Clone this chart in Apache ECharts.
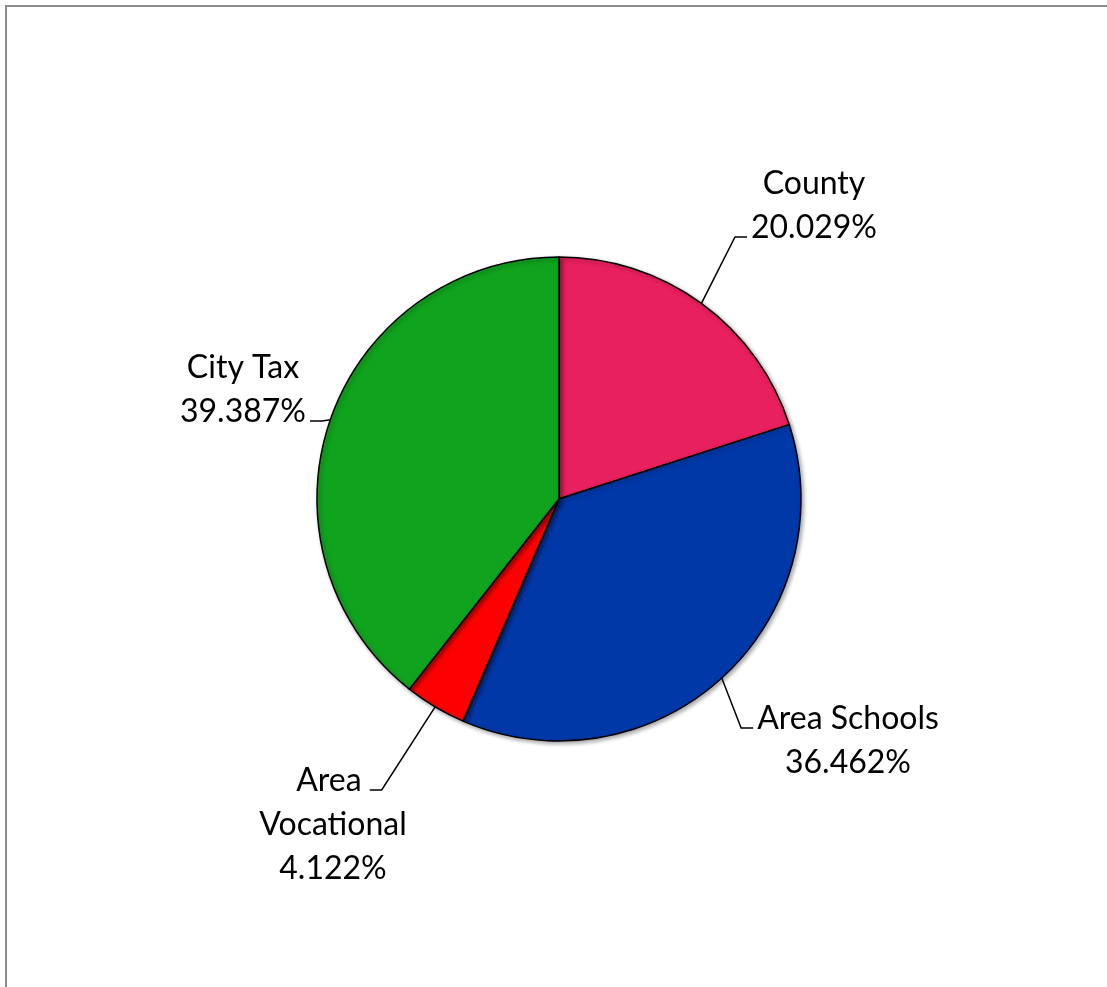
<!DOCTYPE html>
<html>
<head>
<meta charset="utf-8">
<script src="https://cdn.jsdelivr.net/npm/echarts@6/dist/echarts.min.js"></script>
<style>
html,body{margin:0;padding:0;background:#fff;}
#chart{width:1107px;height:987px;}
</style>
</head>
<body>
<div id="chart"></div>
<script>
const categories = ['County', 'Area Schools', 'Area Vocational', 'City Tax'];
const values = [20.029, 36.462, 4.122, 39.387];
const colors = ['#E8205E', '#0038A8', '#FF0000', '#10A31E'];
// label block centres (layout only)
const labelPos = [[814, 206], [848, 741], [333, 825], [243, 390]];

const CENTER = [559, 499], RADIUS = 242;
const FONT = 'Lato', FONT_SIZE = 32, LINE_H = 44;

const total = values.reduce((a, b) => a + b, 0);
function edgePoint(i) {
  let before = 0;
  for (let k = 0; k < i; k++) before += values[k];
  const frac = (before + values[i] / 2) / total;
  const a = frac * 2 * Math.PI; // clockwise from top
  return [CENTER[0] + RADIUS * Math.sin(a), CENTER[1] - RADIUS * Math.cos(a)];
}
const ctx = document.createElement('canvas').getContext('2d');
ctx.font = FONT_SIZE + 'px ' + FONT;
function labelLines(i) {
  const name = categories[i];
  const pct = values[i].toFixed(3) + '%';
  const lines = name === 'Area Vocational' ? ['Area', 'Vocational', pct] : [name, pct];
  return lines;
}

const chart = echarts.init(document.getElementById('chart'));
const data = categories.map((c, i) => {
  const d = { name: c, value: values[i], itemStyle: { color: colors[i] } };
  if (c === 'Area Vocational') d.label = { width: 175, overflow: 'break' };
  return d;
});
chart.setOption({
  animation: false,
  graphic: [{
    type: 'rect', shape: { x: 6, y: 6, width: 1300, height: 1300 },
    style: { fill: 'none', stroke: '#8c8c8c', lineWidth: 2 }, silent: true, z: 0
  }],
  series: [{
    type: 'pie',
    center: CENTER,
    radius: RADIUS,
    startAngle: 90,
    clockwise: true,
    data: data,
    itemStyle: {
      borderColor: '#000', borderWidth: 1.5,
      shadowBlur: 4, shadowOffsetX: 2, shadowOffsetY: 2, shadowColor: 'rgba(0,0,0,0.35)'
    },
    label: {
      show: true,
      formatter: p => p.name + '\n' + p.value.toFixed(3) + '%',
      fontFamily: FONT,
      fontSize: FONT_SIZE,
      lineHeight: LINE_H,
      color: '#000',
      align: 'center'
    },
    labelLine: { show: true, lineStyle: { color: '#000', width: 1.5 } },
    labelLayout: function (params) {
      const i = params.dataIndex;
      const p = labelPos[i];
      const lines = labelLines(i);
      const h = lines.length * LINE_H;
      const top = p[1] - h / 2;
      const start = edgePoint(i);
      // choose the text line closest to the start point
      let best = 0, bd = Infinity;
      lines.forEach((t, k) => {
        const cy = top + LINE_H * (k + 0.5);
        const dd = Math.abs(cy - start[1]);
        if (dd < bd) { bd = dd; best = k; }
      });
      const lw = ctx.measureText(lines[best]).width;
      const ly = top + LINE_H * (best + 0.5) + 9;
      let pts;
      if (p[0] > CENTER[0]) {
        const lx = p[0] - lw / 2 - 4;
        pts = [start, [lx - 12, ly], [lx, ly]];
      } else {
        const rx = p[0] + lw / 2 + 4;
        pts = [start, [rx + 12, ly], [rx, ly]];
      }
      return { x: p[0], y: p[1], align: 'center', verticalAlign: 'middle', labelLinePoints: pts };
    },
    emphasis: { disabled: true }
  }]
});
</script>
</body>
</html>
